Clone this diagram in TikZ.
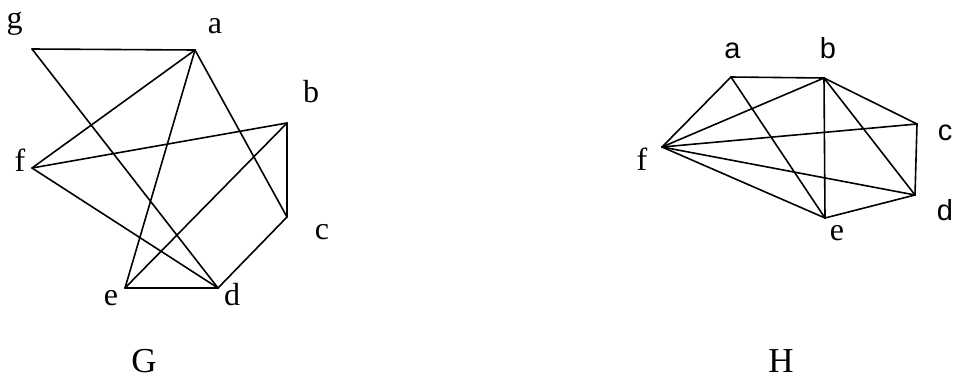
\documentclass[tikz,border=0pt]{standalone}
\usepackage{fontspec}
\setmainfont{Liberation Serif}
\newfontfamily\hsans{Liberation Sans}
\begin{document}
\begin{tikzpicture}[x=1pt,y=-1pt,
  edge/.style={line width=1.6pt, line join=round, line cap=round},
  lbl/.style={anchor=base, inner sep=0pt, font=\fontsize{32}{32}\selectfont},
  slbl/.style={anchor=base, inner sep=0pt, font=\hsans\fontsize{29}{29}\selectfont},
  glbl/.style={anchor=base, inner sep=0pt, font=\fontsize{35}{35}\selectfont}]
\useasboundingbox (0,0) rectangle (955,378);
% Graph G
\coordinate (Gg) at (32,49);
\coordinate (Ga) at (195,50);
\coordinate (Gb) at (287,123);
\coordinate (Gf) at (32,168);
\coordinate (Gc) at (287,217);
\coordinate (Gd) at (218,288);
\coordinate (Ge) at (125,288);
\draw[edge] (Gg) -- (Ga);
\draw[edge] (Gg) -- (Gd);
\draw[edge] (Ga) -- (Gf);
\draw[edge] (Ga) -- (Ge);
\draw[edge] (Ga) -- (Gc);
\draw[edge] (Gf) -- (Gb);
\draw[edge] (Gf) -- (Gd);
\draw[edge] (Gb) -- (Ge);
\draw[edge] (Gb) -- (Gc);
\draw[edge] (Gc) -- (Gd);
\draw[edge] (Ge) -- (Gd);
\node[lbl] (lg) at (14.5,28) {g};
\node[lbl] (la) at (215,33) {a};
\node[lbl] (lb) at (311,102) {b};
\node[lbl] (lf) at (20,171) {f};
\node[lbl] (lc) at (322,239) {c};
\node[lbl] (ld) at (232,305) {d};
\node[lbl] (le) at (111,305) {e};
\node[glbl] (lG) at (144,372) {G};
% Graph H
\coordinate (Ha) at (731,77);
\coordinate (Hb) at (824,78);
\coordinate (Hc) at (917,124);
\coordinate (Hd) at (915,195);
\coordinate (He) at (825,218);
\coordinate (Hf) at (662,147);
\draw[edge] (Ha) -- (Hb);
\draw[edge] (Ha) -- (Hf);
\draw[edge] (Ha) -- (He);
\draw[edge] (Hb) -- (Hf);
\draw[edge] (Hb) -- (He);
\draw[edge] (Hb) -- (Hc);
\draw[edge] (Hb) -- (Hd);
\draw[edge] (Hc) -- (Hf);
\draw[edge] (Hc) -- (Hd);
\draw[edge] (Hd) -- (Hf);
\draw[edge] (Hd) -- (He);
\draw[edge] (He) -- (Hf);
\node[slbl] (ha) at (732.5,58) {a};
\node[slbl] (hb) at (828,58) {b};
\node[slbl] (hc) at (945,140) {c};
\node[slbl] (hd) at (945,220) {d};
\node[lbl] (he) at (837,240) {e};
\node[lbl] (hf) at (642,170) {f};
\node[glbl] (lH) at (781,372) {H};
\end{tikzpicture}
\end{document}
